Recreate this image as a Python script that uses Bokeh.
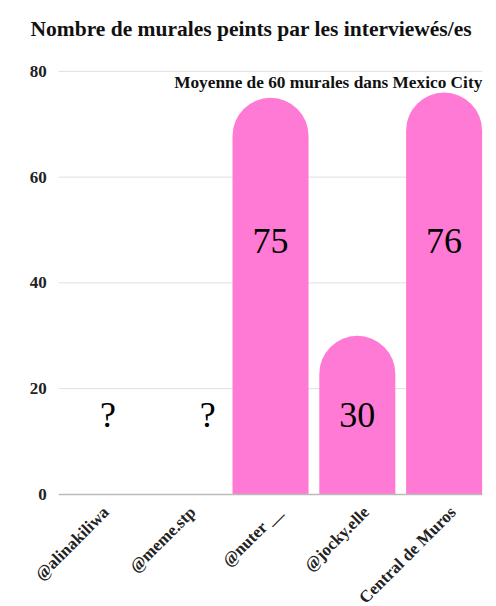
from bokeh.plotting import figure
from bokeh.models import ColumnDataSource, Label, Range1d
from bokeh.core.properties import value
from bokeh.embed import file_html
from bokeh.resources import INLINE
import math

categories = ["@alinakiliwa", "@meme.stp", "@nuter__", "@jocky.elle", "Central de Muros"]
murals = [0, 0, 75, 30, 76]
bar_labels = ["?", "?", "75", "30", "76"]
label_levels = [15, 15, 48, 15, 48]
label_dx = [11, 24, 0, 0, 0]
mean_text = "Moyenne de 60 murales dans Mexico City"
y_ticks = [0, 20, 40, 60, 80]

display_cats = ["@alinakiliwa", "@meme.stp", "@nuter __", "@jocky.elle", "Central de Muros"]

FONT = "Liberation Serif"
PINK = "#ff7ad4"
idx = list(range(len(categories)))

# frame covers the whole drawing area; axis labels are drawn as text inside it
p = figure(x_range=Range1d(-0.881, 4.5), y_range=Range1d(-21.2, 83), width=488, height=606,
           output_backend="svg", toolbar_location=None,
           min_border_left=20, min_border_right=1, min_border_bottom=0)

# grid lines
grid_left, grid_right = -0.44, 4.44
upper = [t for t in y_ticks if t > 0]
p.segment(x0=[grid_left] * len(upper), x1=[grid_right] * len(upper), y0=upper, y1=upper,
          line_color="#e0e0e0", line_width=1)

bars = [i for i, m in enumerate(murals) if m > 0]
bsrc = ColumnDataSource(dict(x=[idx[i] for i in bars], top=[murals[i] for i in bars]))
p.vbar(x="x", top="top", bottom=0, width=0.876, source=bsrc, fill_color=PINK,
       line_color=None, border_radius=(38, 38, 0, 0))

p.segment(x0=[grid_left], x1=[grid_right], y0=[0], y1=[0], line_color="#bbbbbb", line_width=1.5)

# y tick labels
p.text(x=[grid_left] * len(y_ticks), y=y_ticks, text=[str(t) for t in y_ticks],
       x_offset=-12, text_align="right", text_baseline="middle",
       text_font=value(FONT), text_font_size="17px", text_font_style="bold",
       text_color="#222222")

lsrc = ColumnDataSource(dict(x=idx, y=label_levels, t=bar_labels, dx=label_dx))
p.text(x="x", y="y", text="t", x_offset="dx", source=lsrc, text_align="center",
       text_baseline="middle", text_font=value(FONT), text_font_size="36px",
       text_color="black")

p.add_layout(Label(x=grid_right, y=80, text=mean_text, x_units="data", y_units="data",
                   text_align="right", text_baseline="middle", y_offset=-11,
                   text_font=FONT, text_font_size="17.3px", text_font_style="bold",
                   text_color="#111111"))

# category labels (rotated)
csrc = ColumnDataSource(dict(x=idx, y=[0] * len(categories), t=display_cats))
p.text(x="x", y="y", text="t", source=csrc, angle=math.pi / 4,
       x_offset=9, y_offset=15, text_align="right", text_baseline="middle",
       text_font=value(FONT), text_font_size="17px", text_font_style="bold",
       text_color="#222222")

p.title.text = "Nombre de murales peints par les interviewés/es"
p.title.text_font = FONT
p.title.text_font_size = "21.5px"
p.title.text_font_style = "bold"
p.title.text_color = "#111111"
p.title.offset = 10
p.title.standoff = 29

p.outline_line_color = None
p.xgrid.visible = False
p.ygrid.visible = False
p.xaxis.visible = False
p.yaxis.visible = False

open("out.html", "w").write(file_html(p, INLINE))
